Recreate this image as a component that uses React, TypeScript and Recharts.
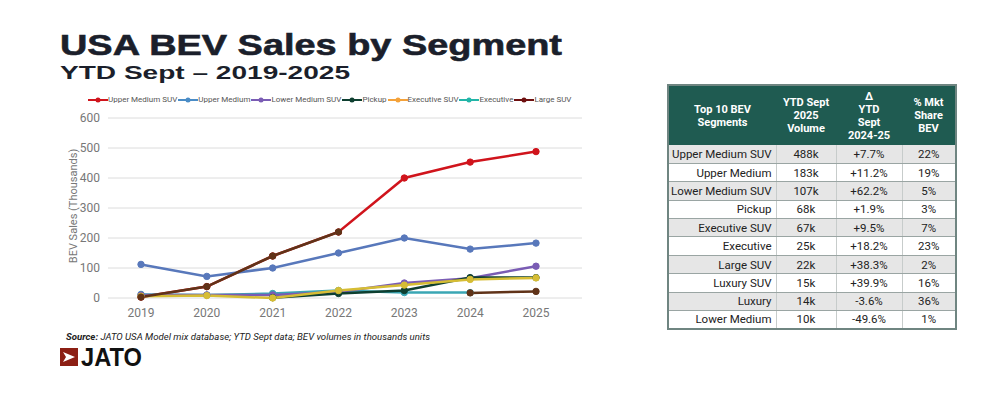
import { LineChart, Line, XAxis, YAxis, CartesianGrid } from "recharts";

const years = ["2019", "2020", "2021", "2022", "2023", "2024", "2025"];

const upperMediumSuv = [3, 38, 140, 220, 400, 453, 488];
const upperMedium = [112, 72, 100, 150, 200, 163, 183];
const lowerMediumSuv = [10, 10, 10, 20, 50, 66, 106];
const pickup = [null, null, 1, 15, 25, 68, 68];
const executiveSuv = [6, 8, 0, 25, 43, 62, 67];
const executive = [12, 10, 15, 25, 18, 18, null];
const largeSuv = [3, 38, 140, 220, null, 17, 22];

const yTicks = [0, 100, 200, 300, 400, 500, 600];

const SERIES = [
  { key: "upperMediumSuv", name: "Upper Medium SUV", color: "#d0141c", values: upperMediumSuv },
  { key: "upperMedium", name: "Upper Medium", color: "#5878bb", legend: "#4a8cc6", values: upperMedium },
  { key: "lowerMediumSuv", name: "Lower Medium SUV", color: "#7a5cb4", values: lowerMediumSuv },
  { key: "pickup", name: "Pickup", color: "#0e3f30", values: pickup },
  { key: "executiveSuv", name: "Executive SUV", color: "#d6bd34", legend: "#f4a23a", values: executiveSuv },
  { key: "executive", name: "Executive", color: "#3aa6b4", legend: "#22b5a8", values: executive },
  { key: "largeSuv", name: "Large SUV", color: "#603318", legend: "#6e1010", values: largeSuv },
];

// draw order so overlaps look like the reference
const DRAW_ORDER = ["upperMediumSuv", "executive", "lowerMediumSuv", "pickup", "executiveSuv", "upperMedium", "largeSuv"];

const tableSegments = [
  "Upper Medium SUV", "Upper Medium", "Lower Medium SUV", "Pickup", "Executive SUV",
  "Executive", "Large SUV", "Luxury SUV", "Luxury", "Lower Medium",
];
const tableVolume = ["488k", "183k", "107k", "68k", "67k", "25k", "22k", "15k", "14k", "10k"];
const tableChange = ["+7.7%", "+11.2%", "+62.2%", "+1.9%", "+9.5%", "+18.2%", "+38.3%", "+39.9%", "-3.6%", "-49.6%"];
const tableShare = ["22%", "19%", "5%", "3%", "7%", "23%", "2%", "16%", "36%", "1%"];

const data = years.map((year, i) => {
  const row: Record<string, string | number | null> = { year };
  SERIES.forEach((s) => {
    row[s.key] = s.values[i];
  });
  return row;
});

const HEAD = "#1f5b51";

function ChartLegend() {
  return (
    <div
      style={{
        position: "absolute",
        left: 88,
        top: 95,
        display: "flex",
        alignItems: "center",
        fontSize: 8,
        color: "#555",
        fontFamily: "Roboto, sans-serif",
        whiteSpace: "nowrap",
      }}
    >
      {SERIES.map((s) => {
        const c = s.legend ?? s.color;
        return (
          <div key={s.key} style={{ display: "flex", alignItems: "center", marginRight: 1 }}>
            <svg width={20} height={8}>
              <line x1={0} y1={4} x2={20} y2={4} stroke={c} strokeWidth={2} />
              <circle cx={10} cy={4} r={2.5} fill={c} />
            </svg>
            <span>{s.name}</span>
          </div>
        );
      })}
    </div>
  );
}

function SegmentTable() {
  const cell = { padding: 0, borderBottom: "1px solid #9aa5a3", borderRight: "1px solid #c7cccb" };
  return (
    <table
      style={{
        position: "absolute",
        left: 667,
        top: 84,
        width: 288,
        borderCollapse: "collapse",
        border: "2px solid #6f8581",
        fontFamily: "Roboto, sans-serif",
        fontSize: 11.5,
        color: "#222",
        tableLayout: "fixed",
      }}
    >
      <colgroup>
        <col style={{ width: 108 }} />
        <col style={{ width: 60 }} />
        <col style={{ width: 66 }} />
        <col style={{ width: 54 }} />
      </colgroup>
      <thead>
        <tr style={{ height: 60, background: HEAD, color: "#fff", fontSize: 11, lineHeight: "13px" }}>
          <th style={{ fontWeight: 700 }}>Top 10 BEV<br />Segments</th>
          <th style={{ fontWeight: 700 }}>YTD Sept<br />2025<br />Volume</th>
          <th style={{ fontWeight: 700 }}>Δ<br />YTD<br />Sept<br />2024-25</th>
          <th style={{ fontWeight: 700 }}>% Mkt<br />Share<br />BEV</th>
        </tr>
      </thead>
      <tbody>
        {tableSegments.map((seg, i) => (
          <tr key={seg} style={{ height: 18.4, background: i % 2 === 0 ? "#e6e6e6" : "#fff" }}>
            <td style={{ ...cell, textAlign: "right", paddingRight: 4 }}>{seg}</td>
            <td style={{ ...cell, textAlign: "center" }}>{tableVolume[i]}</td>
            <td style={{ ...cell, textAlign: "center" }}>{tableChange[i]}</td>
            <td style={{ ...cell, textAlign: "center", borderRight: "none" }}>{tableShare[i]}</td>
          </tr>
        ))}
      </tbody>
    </table>
  );
}

export default function App() {
  return (
    <div
      style={{
        position: "absolute",
        left: 0,
        top: 0,
        width: 1000,
        height: 394,
        background: "#fff",
        overflow: "hidden",
        fontFamily: "Roboto, sans-serif",
      }}
    >
      <svg width={1000} height={394} style={{ position: "absolute", left: 0, top: 0 }}>
        <text x={60} y={55} fontFamily="Liberation Sans, Arial, sans-serif" fontWeight={700} fontSize={30}
          fill="#1b1f2b" stroke="#1b1f2b" strokeWidth={0.6} textLength={502} lengthAdjust="spacingAndGlyphs">
          USA BEV Sales by Segment
        </text>
        <text x={60} y={79} fontFamily="Liberation Sans, Arial, sans-serif" fontWeight={700} fontSize={18}
          fill="#1b1f2b" textLength={290} lengthAdjust="spacingAndGlyphs">
          YTD Sept – 2019-2025
        </text>
        <text x={0} y={0} transform="translate(77,206) rotate(-90)" textAnchor="middle" fontSize={11}
          fill="#777" fontFamily="Roboto, sans-serif">
          BEV Sales (Thousands)
        </text>
        <text x={66} y={340} fontSize={9.5} fontStyle="italic" fill="#222" fontFamily="Roboto, sans-serif"
          textLength={364} lengthAdjust="spacingAndGlyphs">
          <tspan fontWeight={700}>Source:</tspan> JATO USA Model mix database; YTD Sept data; BEV volumes in thousands units
        </text>
        <rect x={60} y={348} width={18} height={18} fill="#8c1f14" />
        <polygon points="63,352 75,357 63,362 66,357" fill="#fff" />
        <text x={81} y={366} fontFamily="Liberation Sans, Arial, sans-serif" fontWeight={700} fontSize={25}
          fill="#111" textLength={61} lengthAdjust="spacingAndGlyphs">
          JATO
        </text>
      </svg>

      <ChartLegend />

      <div style={{ position: "absolute", left: 0, top: 0 }}>
        <LineChart width={600} height={330} data={data} margin={{ top: 118, right: 18, bottom: 2, left: 68 }}>
          <CartesianGrid horizontal vertical={false} stroke="#dcdcdc" />
          <XAxis
            dataKey="year"
            height={30}
            axisLine={false}
            tickLine={false}
            tickSize={0}
            tickMargin={10}
            padding={{ left: 33, right: 46 }}
            tick={{ fontSize: 12, fill: "#777", fontFamily: "Roboto, sans-serif" }}
          />
          <YAxis
            width={40}
            domain={[0, 600]}
            ticks={yTicks}
            axisLine={false}
            tickLine={false}
            tickSize={0}
            tickMargin={8}
            tick={{ fontSize: 12, fill: "#777", fontFamily: "Roboto, sans-serif" }}
          />
          {DRAW_ORDER.map((k) => {
            const s = SERIES.find((x) => x.key === k)!;
            return (
              <Line
                key={s.key}
                dataKey={s.key}
                name={s.name}
                stroke={s.color}
                strokeWidth={2.5}
                dot={{ r: 3.2, fill: s.color, stroke: s.color, strokeWidth: 1 }}
                isAnimationActive={false}
              />
            );
          })}
        </LineChart>
      </div>

      <SegmentTable />
    </div>
  );
}
